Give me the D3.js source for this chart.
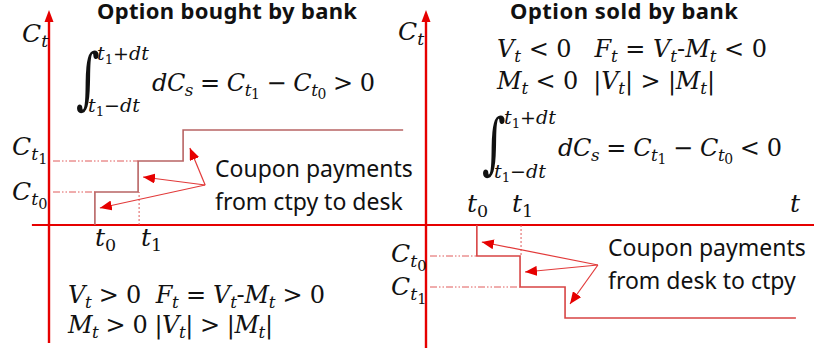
<!DOCTYPE html>
<html><head><meta charset="utf-8">
<script src="https://cdn.jsdelivr.net/npm/d3@7"></script>
<style>body{margin:0;background:#fff}svg{display:block}text{white-space:pre}</style>
</head><body><svg id="c" width="814" height="348"></svg>
<script>
// ---------- data ----------
const panelTitles = ["Option bought by bank", "Option sold by bank"];
const leftTimes = [1.02, 1.98, 2.98, 7.87];      // t0, t1, t2, end
const leftLevels = [33, 64, 95];                 // C levels (bought)
const rightTimes = [1.13, 2.09, 3.09, 8.22];
const rightLevels = [-31, -62, -93];             // C levels (sold)
const leftArrowFrom = [3.47, 40];
const leftArrowTo = [[3.13, 77], [2.09, 48], [1.13, 17]];
const rightArrowFrom = [3.82, -40];
const rightArrowTo = [[1.24, -17], [2.2, -47], [3.2, -79]];
const leftNotes = ["Coupon payments", "from ctpy to desk"];
const rightNotes = ["Coupon payments", "from desk to ctpy"];
const leftFormulas = ["V_{t} > 0  F_{t} = V_{t}-M_{t} > 0", "M_{t} > 0 |V_{t}| > |M_{t}|"];
const rightFormulas = ["V_{t} < 0   F_{t} = V_{t}-M_{t} < 0", "M_{t} < 0  |V_{t}| > |M_{t}|"];
const leftIntegral = ["t_{1}+dt", "t_{1}−dt", "dC_{s} = C_{t_{1}} − C_{t_{0}} > 0"];
const rightIntegral = ["t_{1}+dt", "t_{1}−dt", "dC_{s} = C_{t_{1}} − C_{t_{0}} < 0"];

// ---------- setup ----------
const svg = d3.select("#c");
const xL = d3.scaleLinear().domain([0, 1]).range([49, 94]);
const xR = d3.scaleLinear().domain([0, 1]).range([426, 471]);
const y = d3.scaleLinear().domain([-100, 100]).range([325, 125]);
const RED = "#e60000";
const MATHFONT = "DejaVu Serif";
const SANS = "Noto Sans";

// math text helper: letters italic, digits/operators roman, _{...} subscripts
function math(x, yb, str, size, len) {
  const runs = [];
  let lvl = 0, i = 0;
  while (i < str.length) {
    if (str[i] === "_" && str[i + 1] === "{") { lvl++; i += 2; continue; }
    if (str[i] === "}") { lvl--; i++; continue; }
    const ch = str[i];
    const it = /[A-Za-z]/.test(ch);
    const last = runs[runs.length - 1];
    if (last && last.lvl === lvl && last.it === it) last.s += ch;
    else runs.push({ s: ch, lvl, it });
    i++;
  }
  const sizes = [1, 0.7, 0.58], shifts = [0, 0.2, 0.34];
  const t = svg.append("text").attr("x", x).attr("y", yb)
    .attr("font-family", MATHFONT).attr("font-size", size).attr("fill", "#111");
  if (len) t.attr("textLength", len).attr("lengthAdjust", "spacing");
  let cur = 0;
  runs.forEach(r => {
    const dy = (shifts[r.lvl] - shifts[cur]) * size;
    cur = r.lvl;
    t.append("tspan").attr("dy", dy.toFixed(2))
      .attr("font-size", (sizes[r.lvl] * size).toFixed(2))
      .attr("font-style", r.it ? "italic" : "normal").text(r.s);
  });
  return t;
}

// ---------- axes ----------
svg.append("line").attr("x1", xL(-0.38)).attr("x2", 814).attr("y1", y(0)).attr("y2", y(0))
  .attr("stroke", RED).attr("stroke-width", 2.2);
[[xL, -118], [xR, -125]].forEach(([xs, bot]) => {
  svg.append("line").attr("x1", xs(0)).attr("x2", xs(0)).attr("y1", y(bot)).attr("y2", y(204))
    .attr("stroke", RED).attr("stroke-width", 2.4);
  svg.append("path").attr("d", `M${xs(0) - 4.5},${y(203)}L${xs(0)},${y(215)}L${xs(0) + 4.5},${y(203)}Z`)
    .attr("fill", RED);
});

// ---------- steps ----------
function steps(xs, times, levels, color) {
  const pts = [[times[0], 0]].concat(levels.map((l, i) => [times[i], l]), [[times[3], levels[2]]]);
  svg.append("path").datum(pts)
    .attr("d", d3.line().x(d => xs(d[0])).y(d => y(d[1])).curve(d3.curveStepAfter))
    .attr("fill", "none").attr("stroke", color).attr("stroke-width", 1.6);
  const g = svg.append("g").attr("stroke", "#e05a5a").attr("stroke-width", 1).attr("fill", "none")
    .attr("stroke-dasharray", "7,2,1.5,2,1.5,2");
  g.append("line").attr("x1", xs(0) + 4).attr("x2", xs(times[0])).attr("y1", y(levels[0])).attr("y2", y(levels[0]));
  g.append("line").attr("x1", xs(0) + 4).attr("x2", xs(times[1])).attr("y1", y(levels[1])).attr("y2", y(levels[1]));
  g.append("line").attr("x1", xs(times[1]) + 1).attr("x2", xs(times[1]) + 1).attr("y1", y(0)).attr("y2", y(levels[0]))
    .attr("stroke-dasharray", "2,2");
}
steps(xL, leftTimes, leftLevels, "#b86464");
steps(xR, rightTimes, rightLevels, "#d84444");

// ---------- arrows ----------
svg.append("defs").append("marker").attr("id", "ah").attr("markerUnits", "userSpaceOnUse")
  .attr("markerWidth", 13).attr("markerHeight", 10).attr("refX", 12).attr("refY", 5)
  .attr("orient", "auto").append("path").attr("d", "M0,0L12,5L0,10Z").attr("fill", RED);
function arrows(xs, from, tos) {
  tos.forEach(t => {
    svg.append("line").attr("x1", xs(from[0])).attr("y1", y(from[1]))
      .attr("x2", xs(t[0])).attr("y2", y(t[1]))
      .attr("stroke", "#e23a3a").attr("stroke-width", 1.2).attr("marker-end", "url(#ah)");
  });
}
arrows(xL, leftArrowFrom, leftArrowTo);
arrows(xR, rightArrowFrom, rightArrowTo);

// ---------- titles & notes ----------
[[227, 260, panelTitles[0]], [624, 228, panelTitles[1]]].forEach(([x, len, s]) => {
  svg.append("text").attr("x", x).attr("y", 19).attr("text-anchor", "middle")
    .attr("font-family", SANS).attr("font-weight", "bold").attr("font-size", 22)
    .attr("textLength", len).attr("lengthAdjust", "spacing").attr("fill", "#111").text(s);
});
[[215, 177, leftNotes], [608, 256, rightNotes]].forEach(([x, yb, lines]) => {
  lines.forEach((s, i) => svg.append("text").attr("x", x).attr("y", yb + i * 33)
    .attr("font-family", SANS).attr("font-size", 23).attr("fill", "#111").text(s));
});

// ---------- math labels ----------
math(22, 42, "C_{t}", 25);
math(398, 40, "C_{t}", 25);
math(12, 155, "C_{t_{1}}", 25);
math(12, 200, "C_{t_{0}}", 25);
math(391, 262, "C_{t_{0}}", 25);
math(391, 295, "C_{t_{1}}", 25);
math(95, 246, "t_{0}", 25);
math(141, 246, "t_{1}", 25);
math(467, 212, "t_{0}", 25);
math(512, 212, "t_{1}", 25);
math(790, 212, "t", 25);

math(68, 303, leftFormulas[0], 24, 257);
math(68, 333, leftFormulas[1], 24, 205);
math(497, 57, rightFormulas[0], 24, 270);
math(497, 89, rightFormulas[1], 24, 218);

// integrals
function integral(x, base, lims, ux, lx, mx, my, upB, loB, mlen) {
  svg.append("text").attr("transform", `translate(${x},${base}) scale(0.68,1)`)
    .attr("font-family", MATHFONT).attr("font-style", "italic")
    .attr("font-size", 67).attr("fill", "#111").text("∫");
  math(ux, upB, lims[0], 19);
  math(lx, loB, lims[1], 19);
  math(mx, my, lims[2], 24, mlen);
}
integral(76, 101, leftIntegral, 97, 88, 152, 91, 60, 112, 223);
integral(482, 166, rightIntegral, 504, 494, 558, 156, 124, 178, 224);
</script></body></html>
